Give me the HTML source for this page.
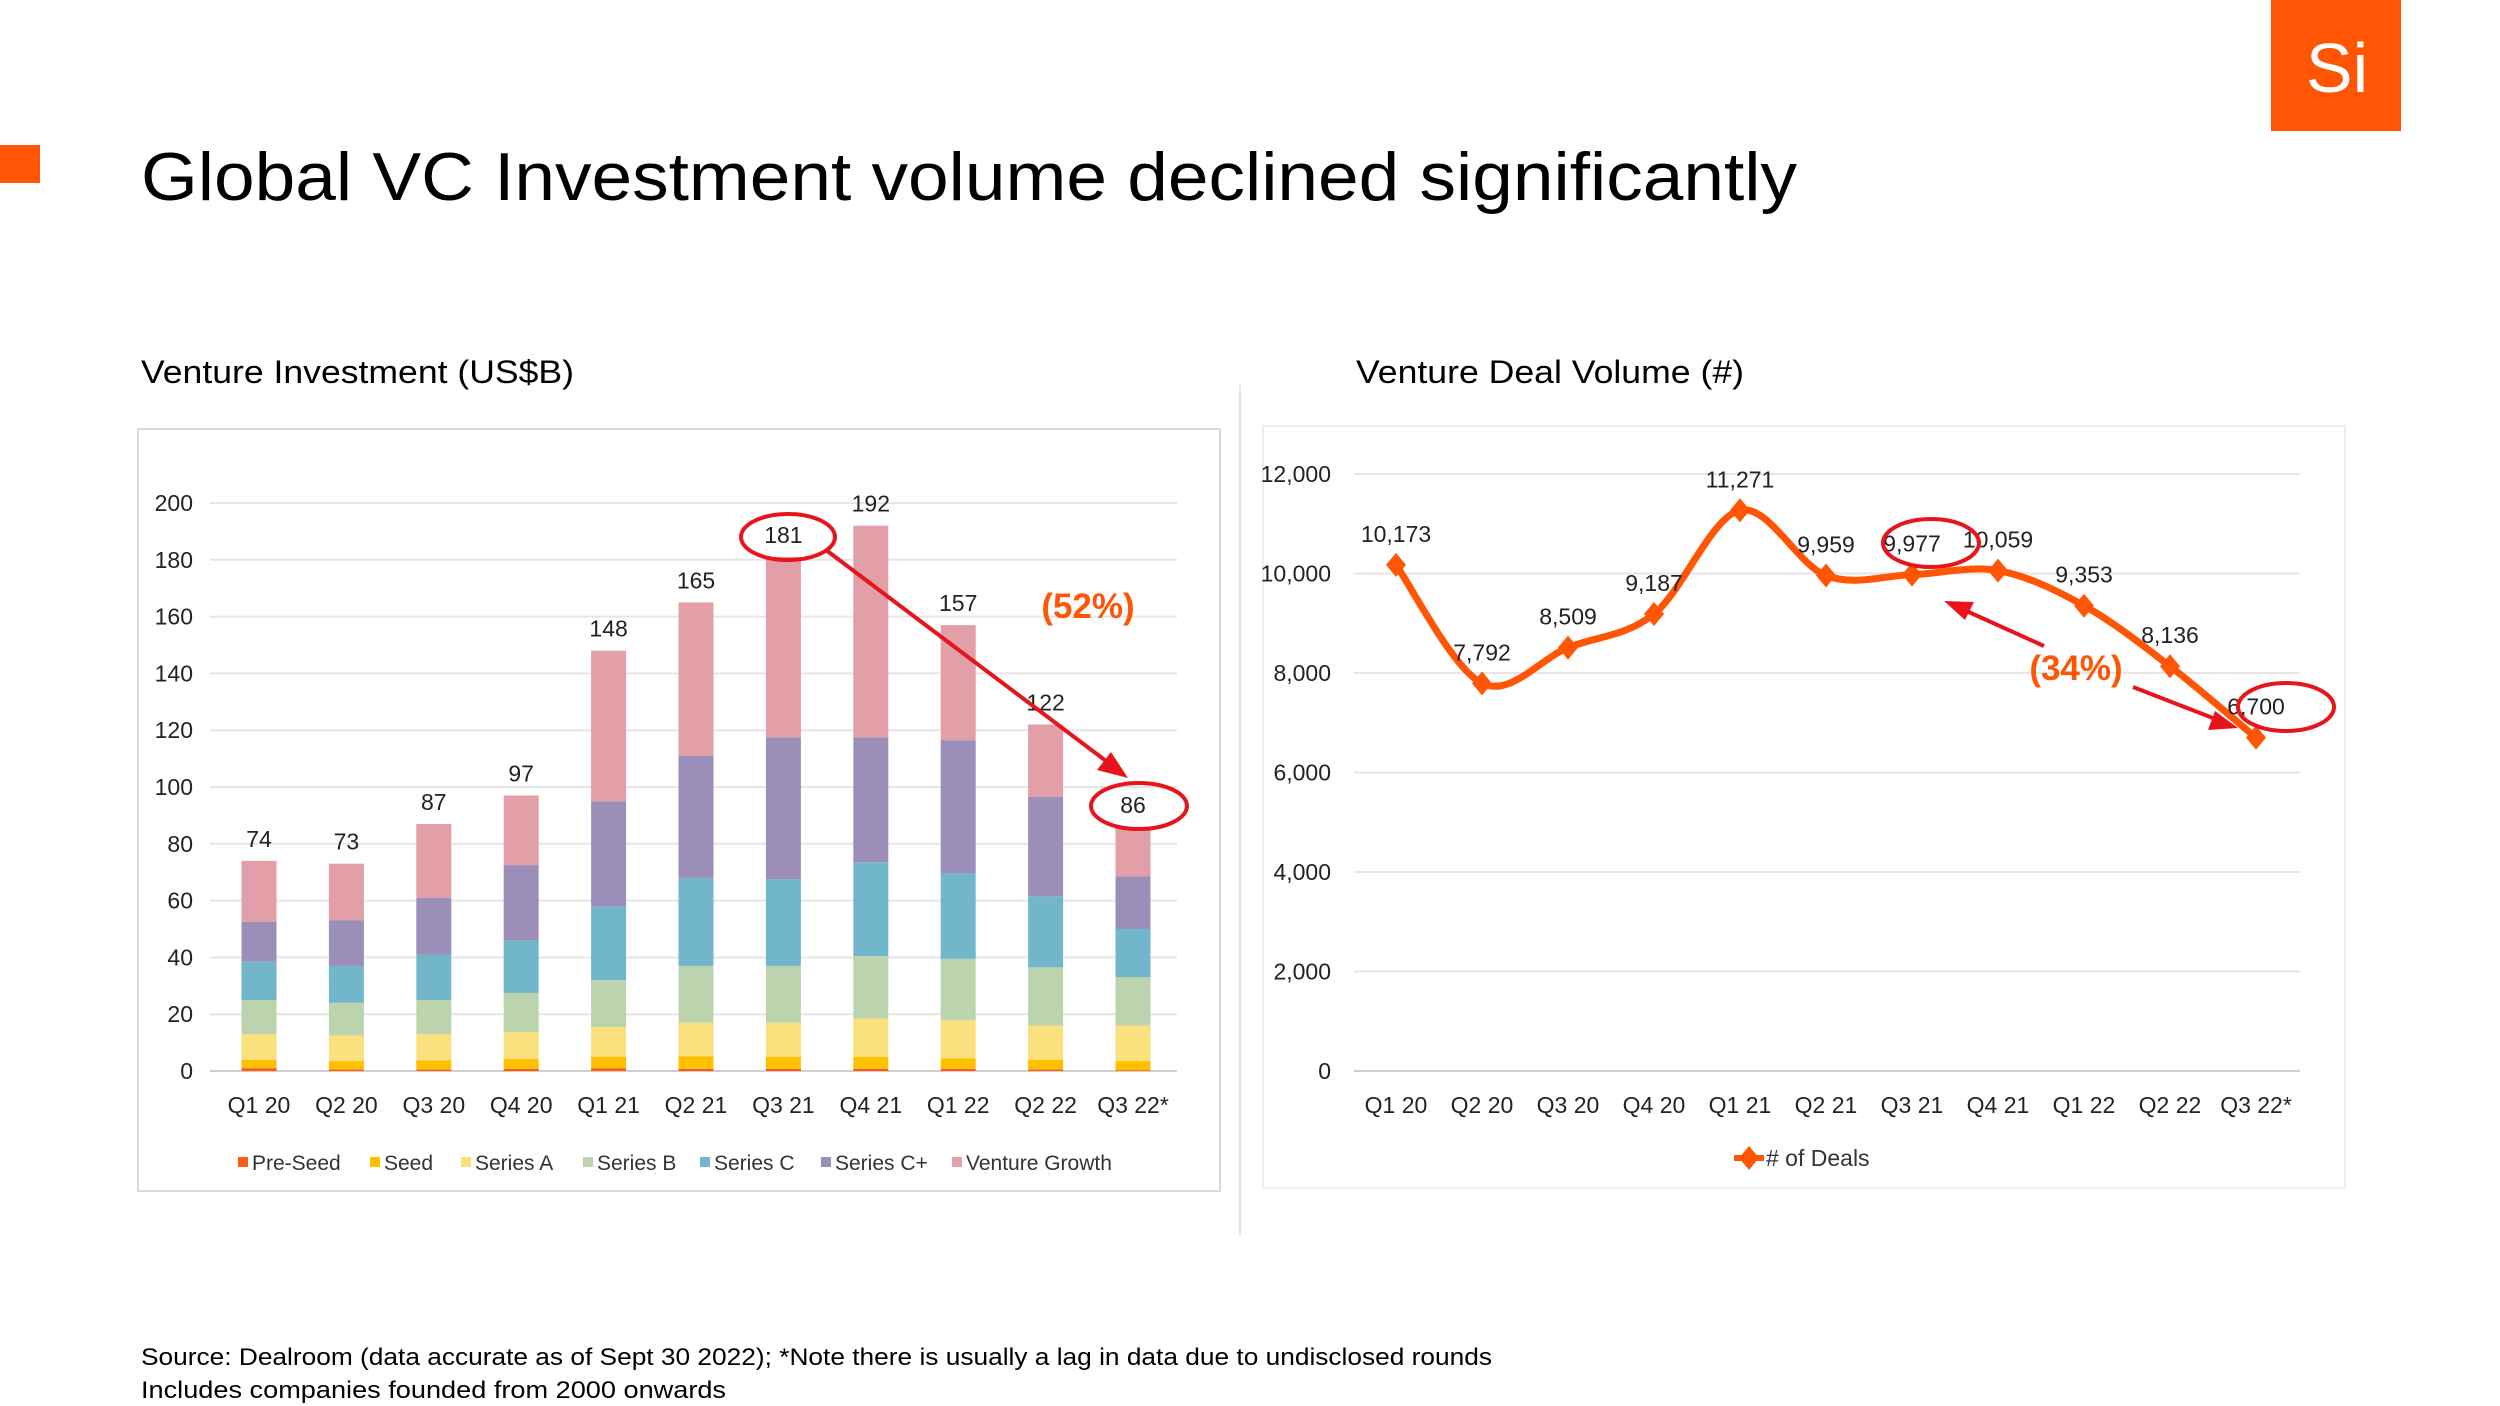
<!DOCTYPE html>
<html><head><meta charset="utf-8">
<style>
html,body{margin:0;padding:0;background:#fff;}
svg{display:block;font-family:"Liberation Sans",sans-serif;}
</style></head>
<body>
<svg id="s" width="2500" height="1406" viewBox="0 0 2500 1406" xmlns="http://www.w3.org/2000/svg">
<rect x="0" y="145" width="40" height="38" fill="#ff5505"/>
<rect x="2271" y="0" width="130" height="131" fill="#ff5505"/>
<text x="2337" y="92" font-size="70" fill="#fff" text-anchor="middle">Si</text>
<text x="141" y="200" font-size="68" fill="#000" textLength="1656" lengthAdjust="spacingAndGlyphs">Global VC Investment volume declined significantly</text>
<text x="141" y="383" font-size="32" fill="#000" textLength="433" lengthAdjust="spacingAndGlyphs">Venture Investment (US$B)</text>
<text x="1356" y="383" font-size="32" fill="#000" textLength="388" lengthAdjust="spacingAndGlyphs">Venture Deal Volume (#)</text>
<line x1="1240" y1="385" x2="1240" y2="1236" stroke="#e4e4e4" stroke-width="2"/>
<rect x="138" y="429" width="1082" height="762" fill="none" stroke="#d9d9d9" stroke-width="2"/>
<rect x="1263" y="426" width="1082" height="762" fill="none" stroke="#eeeeee" stroke-width="2"/>
<g id="bars"></g>
<g id="line"></g>
<text x="141" y="1365" font-size="24" fill="#000" textLength="1351" lengthAdjust="spacingAndGlyphs">Source: Dealroom (data accurate as of Sept 30 2022); *Note there is usually a lag in data due to undisclosed rounds</text>
<text x="141" y="1398" font-size="24" fill="#000" textLength="585" lengthAdjust="spacingAndGlyphs">Includes companies founded from 2000 onwards</text>
</svg>
<script>
const categories=["Q1 20","Q2 20","Q3 20","Q4 20","Q1 21","Q2 21","Q3 21","Q4 21","Q1 22","Q2 22","Q3 22*"];
const preSeed=[1,0.5,0.5,0.7,1,0.8,0.8,0.8,0.8,0.5,0.3];
const seed=[3,3,3.3,3.6,4,4.4,4.2,4.2,3.7,3.5,3.2];
const seriesA=[9,9,9.2,9.4,10.5,11.8,12,13.5,13.5,12,12.5];
const seriesB=[12,11.5,12,13.8,16.5,20,20,22,21.5,20.5,17];
const seriesC=[13.5,13,16,18.5,26,31,30.5,33,30,25,17];
const seriesCPlus=[14,16,20,26.5,37,43,50,44,47,35,18.5];
const ventureGrowth=[21.5,20,26,24.5,53,54,63.5,74.5,40.5,25.5,17.5];
const barTotals=["74","73","87","97","148","165","181","192","157","122","86"];
const barTicks=[0,20,40,60,80,100,120,140,160,180,200];
const deals=[10173,7792,8509,9187,11271,9959,9977,10059,9353,8136,6700];
const dealLabels=["10,173","7,792","8,509","9,187","11,271","9,959","9,977","10,059","9,353","8,136","6,700"];
const dealTicks=[0,2000,4000,6000,8000,10000,12000];
const dealTickLabels=["0","2,000","4,000","6,000","8,000","10,000","12,000"];

const NS="http://www.w3.org/2000/svg";
function mk(tag,attrs,parent,txt){const e=document.createElementNS(NS,tag);for(const k in attrs)e.setAttribute(k,attrs[k]);if(txt!==undefined)e.textContent=txt;parent.appendChild(e);return e;}

// ---- bar chart ----
const gb=document.getElementById('bars');
const by=v=>1071-(v/200)*(1071-503);
const bx=i=>259+i*87.4;
barTicks.forEach(t=>{
  const l=mk('line',{x1:210,x2:1177,y1:by(t),y2:by(t),stroke:t===0?'#d0d0d0':'#e6e6e6','stroke-width':2},gb);
  
  
  const tx=mk('text',{x:193,y:by(t)+8,'font-size':23,'text-anchor':'end',fill:'#222'},gb,String(t));
  
  
});
const series=[preSeed,seed,seriesA,seriesB,seriesC,seriesCPlus,ventureGrowth];
const colors=["#ff5a1a","#ffc000","#fae17e","#bcd4ad","#71b6cb","#9b8fb9","#e29fa7"];
const names=["Pre-Seed","Seed","Series A","Series B","Series C","Series C+","Venture Growth"];
const segNames=["pre-seed","seed","series-a","series-b","series-c","series-c-plus","venture-growth"];
categories.forEach((c,i)=>{
  let cum=0;
  series.forEach((s,k)=>{
    const y0=by(cum),y1=by(cum+s[i]);cum+=s[i];
    const r=mk('rect',{x:bx(i)-17.5,y:y1,width:35,height:y0-y1,fill:colors[k]},gb);
    
    
  });
  const tl=mk('text',{x:bx(i),y:by(cum)-14,'font-size':23,'text-anchor':'middle',fill:'#222'},gb,barTotals[i]);
  
  
  const xl=mk('text',{x:bx(i),y:1113,'font-size':23,'text-anchor':'middle',fill:'#222'},gb,c);
  
  
});
const legX=[238,370,461,583,700,821,952];
names.forEach((n,k)=>{
  const r=mk('rect',{x:legX[k],y:1157,width:10,height:10,fill:colors[k]},gb);
  
  
  const t=mk('text',{x:legX[k]+14,y:1170,'font-size':21,fill:'#333'},gb,n);
  
  
});
// annotations left
const ann1=mk('ellipse',{cx:788,cy:537,rx:47,ry:23,fill:'none',stroke:'#e8141b','stroke-width':4},gb);


const ann2=mk('ellipse',{cx:1139,cy:806,rx:48,ry:23,fill:'none',stroke:'#e8141b','stroke-width':4},gb);


const a1=mk('line',{x1:826,y1:550,x2:1110,y2:764,stroke:'#e8141b','stroke-width':4},gb);


const h1=mk('polygon',{points:'1128,778 1097,770 1111,752',fill:'#e8141b'},gb);


const p1=mk('text',{x:1088,y:618,'font-size':35,'font-weight':'bold','text-anchor':'middle',fill:'#ff5505'},gb,'(52%)');



// ---- line chart ----
const gl=document.getElementById('line');
const ly=v=>1071-(v/12000)*(1071-474);
const lx=i=>1396+i*86;
dealTicks.forEach((t,j)=>{
  const l=mk('line',{x1:1354,x2:2300,y1:ly(t),y2:ly(t),stroke:t===0?'#d0d0d0':'#e6e6e6','stroke-width':2},gl);
  
  
  const tx=mk('text',{x:1331,y:ly(t)+8,'font-size':23,'text-anchor':'end',fill:'#222'},gl,dealTickLabels[j]);
  
  
});
const pts=deals.map((v,i)=>[lx(i),ly(v)]);
let d='M'+pts[0][0]+','+pts[0][1];
for(let i=0;i<pts.length-1;i++){
  const p0=pts[Math.max(0,i-1)],p1_=pts[i],p2=pts[i+1],p3=pts[Math.min(pts.length-1,i+2)];
  const c1=[p1_[0]+(p2[0]-p0[0])/6,p1_[1]+(p2[1]-p0[1])/6];
  const c2=[p2[0]-(p3[0]-p1_[0])/6,p2[1]-(p3[1]-p1_[1])/6];
  d+=' C'+c1[0]+','+c1[1]+' '+c2[0]+','+c2[1]+' '+p2[0]+','+p2[1];
}
const path=mk('path',{d:d,fill:'none',stroke:'#ff5505','stroke-width':7,'stroke-linejoin':'round'},gl);


pts.forEach((p,i)=>{
  const m=mk('polygon',{points:`${p[0]},${p[1]-12} ${p[0]+10},${p[1]} ${p[0]},${p[1]+12} ${p[0]-10},${p[1]}`,fill:'#ff5505'},gl);
  
  
  const t=mk('text',{x:p[0],y:p[1]-23,'font-size':23,'text-anchor':'middle',fill:'#222'},gl,dealLabels[i]);
  
  
  const xl=mk('text',{x:p[0],y:1113,'font-size':23,'text-anchor':'middle',fill:'#222'},gl,categories[i]);
  
  
});
const lg=mk('line',{x1:1734,y1:1158,x2:1764,y2:1158,stroke:'#ff5505','stroke-width':6},gl);


const lgm=mk('polygon',{points:'1749,1146 1759,1158 1749,1170 1739,1158',fill:'#ff5505'},gl);


const lgt=mk('text',{x:1766,y:1166,'font-size':23,fill:'#333'},gl,'# of Deals');


const e3=mk('ellipse',{cx:1931,cy:543,rx:48,ry:24,fill:'none',stroke:'#e8141b','stroke-width':4},gl);


const e4=mk('ellipse',{cx:2286,cy:707,rx:48,ry:24,fill:'none',stroke:'#e8141b','stroke-width':4},gl);


const a3=mk('line',{x1:2044,y1:646,x2:1962,y2:609,stroke:'#e8141b','stroke-width':4},gl);


const h3=mk('polygon',{points:'1944,601 1974,602 1965,620',fill:'#e8141b'},gl);


const a4=mk('line',{x1:2133,y1:687,x2:2218,y2:720,stroke:'#e8141b','stroke-width':4},gl);


const h4=mk('polygon',{points:'2238,728 2208,730 2215,711',fill:'#e8141b'},gl);


const p2t=mk('text',{x:2076,y:680,'font-size':35,'font-weight':'bold','text-anchor':'middle',fill:'#ff5505'},gl,'(34%)');


</script>
</body></html>
